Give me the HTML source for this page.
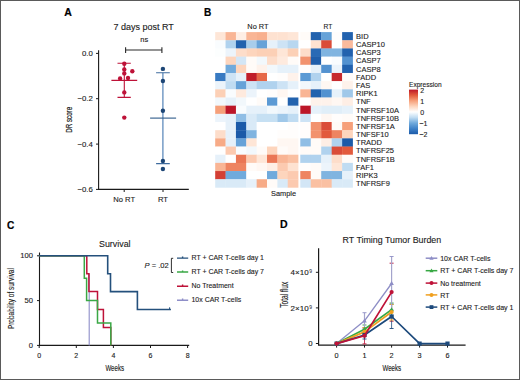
<!DOCTYPE html>
<html><head><meta charset="utf-8"><style>
html,body{margin:0;padding:0;background:#fff;}
body{width:520px;height:380px;overflow:hidden;}
svg{display:block;}
text{font-family:"Liberation Sans", sans-serif;}
</style></head><body>
<svg width="520" height="380" viewBox="0 0 520 380">
<rect x="0" y="0" width="520" height="380" fill="#fff"/>
<text x="64.30" y="16.00" font-size="11" font-weight="bold" fill="#000" textLength="7.60" lengthAdjust="spacingAndGlyphs" stroke="#000" stroke-width="0.2">A</text>
<text x="143.70" y="30.20" font-size="9" fill="#1c1c1c" stroke="#1c1c1c" stroke-width="0.12" text-anchor="middle" >7 days post RT</text>
<text x="144.20" y="42.30" font-size="7" fill="#1c1c1c" stroke="#1c1c1c" stroke-width="0.12" text-anchor="middle" textLength="7.90" lengthAdjust="spacingAndGlyphs" >ns</text>
<path d="M125.6 50H161.9M125.6 47.3V53M161.9 47.3V53" stroke="#2a2a2a" stroke-width="1.1" fill="none"/>
<path d="M98.6 50.3V189.4H188.8" stroke="#1a1a1a" stroke-width="1.1" fill="none"/>
<path d="M96 53.4H98.6" stroke="#1a1a1a" stroke-width="1"/>
<text x="92.80" y="56.10" font-size="7.8" fill="#1c1c1c" stroke="#1c1c1c" stroke-width="0.12" text-anchor="end" >0.0</text>
<path d="M96 98.7H98.6" stroke="#1a1a1a" stroke-width="1"/>
<text x="92.80" y="101.44" font-size="7.8" fill="#1c1c1c" stroke="#1c1c1c" stroke-width="0.12" text-anchor="end" >−0.2</text>
<path d="M96 144.1H98.6" stroke="#1a1a1a" stroke-width="1"/>
<text x="92.80" y="146.78" font-size="7.8" fill="#1c1c1c" stroke="#1c1c1c" stroke-width="0.12" text-anchor="end" >−0.4</text>
<path d="M96 189.4H98.6" stroke="#1a1a1a" stroke-width="1"/>
<text x="92.80" y="192.12" font-size="7.8" fill="#1c1c1c" stroke="#1c1c1c" stroke-width="0.12" text-anchor="end" >−0.6</text>
<path d="M124.2 189.4V192" stroke="#1a1a1a" stroke-width="1"/>
<text x="124.20" y="202.00" font-size="7.6" fill="#1c1c1c" stroke="#1c1c1c" stroke-width="0.12" text-anchor="middle" >No RT</text>
<path d="M163 189.4V192" stroke="#1a1a1a" stroke-width="1"/>
<text x="163.00" y="202.00" font-size="7.6" fill="#1c1c1c" stroke="#1c1c1c" stroke-width="0.12" text-anchor="middle" >RT</text>
<text transform="translate(72.40 119.80) rotate(-90)" font-size="9.4" fill="#1c1c1c" text-anchor="middle" textLength="25.80" lengthAdjust="spacingAndGlyphs" stroke="#1c1c1c" stroke-width="0.2">DR score</text>
<path d="M124.3 63.3V97.4M117.5 63.3H130.8M117.5 97.4H130.8M111.4 80.4H137.2" stroke="#be1238" stroke-width="1.1" fill="none"/>
<circle cx="124.3" cy="63.7" r="2.2" fill="#be1238"/>
<circle cx="124.3" cy="69.4" r="2.2" fill="#be1238"/>
<circle cx="124.3" cy="73.4" r="2.2" fill="#be1238"/>
<circle cx="132.3" cy="71.2" r="2.2" fill="#be1238"/>
<circle cx="120.1" cy="78.4" r="2.2" fill="#be1238"/>
<circle cx="128" cy="78" r="2.2" fill="#be1238"/>
<circle cx="124.3" cy="92.4" r="2.2" fill="#be1238"/>
<circle cx="124.3" cy="117.6" r="2.2" fill="#be1238"/>
<path d="M162.9 72.8V163.6" stroke="#5584b8" stroke-width="1.2" fill="none"/>
<path d="M156.1 72.8H169.8M156.1 163.6H169.8" stroke="#3f6c9e" stroke-width="1.1" fill="none"/>
<path d="M150.1 118.1H176.1" stroke="#2d5a8a" stroke-width="1.1" fill="none"/>
<circle cx="162.9" cy="68.9" r="2.2" fill="#1d4676"/>
<circle cx="162.9" cy="81" r="2.2" fill="#1d4676"/>
<circle cx="162.9" cy="110.8" r="2.2" fill="#1d4676"/>
<circle cx="162.9" cy="161" r="2.2" fill="#1d4676"/>
<circle cx="162.9" cy="169" r="2.2" fill="#1d4676"/>
<text x="204.10" y="16.20" font-size="11" font-weight="bold" fill="#000" textLength="7.30" lengthAdjust="spacingAndGlyphs" stroke="#000" stroke-width="0.2">B</text>
<text x="257.90" y="28.80" font-size="7.6" fill="#1c1c1c" stroke="#1c1c1c" stroke-width="0.12" text-anchor="middle" textLength="21.20" lengthAdjust="spacingAndGlyphs" >No RT</text>
<text x="328.00" y="28.80" font-size="7.6" fill="#1c1c1c" stroke="#1c1c1c" stroke-width="0.12" text-anchor="middle" textLength="8.80" lengthAdjust="spacingAndGlyphs" >RT</text>
<rect x="215.20" y="32.10" width="10.66" height="8.47" fill="#fee6d7"/>
<rect x="225.56" y="32.10" width="10.66" height="8.47" fill="#f9b595"/>
<rect x="235.93" y="32.10" width="10.66" height="8.47" fill="#feeee5"/>
<rect x="246.29" y="32.10" width="10.66" height="8.47" fill="#f9b595"/>
<rect x="256.65" y="32.10" width="10.66" height="8.47" fill="#f8b08e"/>
<rect x="267.01" y="32.10" width="10.66" height="8.47" fill="#fee2d1"/>
<rect x="277.38" y="32.10" width="10.66" height="8.47" fill="#fee2d1"/>
<rect x="287.74" y="32.10" width="10.66" height="8.47" fill="#fee6d7"/>
<rect x="300.30" y="32.10" width="10.76" height="8.47" fill="#fffbf8"/>
<rect x="310.76" y="32.10" width="10.76" height="8.47" fill="#2262ae"/>
<rect x="321.22" y="32.10" width="10.76" height="8.47" fill="#66a2d8"/>
<rect x="331.68" y="32.10" width="10.76" height="8.47" fill="#fffdfc"/>
<rect x="342.14" y="32.10" width="10.76" height="8.47" fill="#2262ae"/>
<text x="356.10" y="38.94" font-size="7.9" fill="#1c1c1c" stroke="#1c1c1c" stroke-width="0.12" textLength="12.51" lengthAdjust="spacingAndGlyphs" >BID</text>
<rect x="215.20" y="40.27" width="10.66" height="8.47" fill="#f9fcfe"/>
<rect x="225.56" y="40.27" width="10.66" height="8.47" fill="#b0d2ee"/>
<rect x="235.93" y="40.27" width="10.66" height="8.47" fill="#2262ae"/>
<rect x="246.29" y="40.27" width="10.66" height="8.47" fill="#a8cdeb"/>
<rect x="256.65" y="40.27" width="10.66" height="8.47" fill="#66a2d8"/>
<rect x="267.01" y="40.27" width="10.66" height="8.47" fill="#e6f1fa"/>
<rect x="277.38" y="40.27" width="10.66" height="8.47" fill="#cde3f5"/>
<rect x="287.74" y="40.27" width="10.66" height="8.47" fill="#b8d7f0"/>
<rect x="300.30" y="40.27" width="10.76" height="8.47" fill="#ffffff"/>
<rect x="310.76" y="40.27" width="10.76" height="8.47" fill="#fee2d1"/>
<rect x="321.22" y="40.27" width="10.76" height="8.47" fill="#da4c38"/>
<rect x="331.68" y="40.27" width="10.76" height="8.47" fill="#ffffff"/>
<rect x="342.14" y="40.27" width="10.76" height="8.47" fill="#faba9c"/>
<text x="356.10" y="47.11" font-size="7.9" fill="#1c1c1c" stroke="#1c1c1c" stroke-width="0.12" textLength="28.79" lengthAdjust="spacingAndGlyphs" >CASP10</text>
<rect x="215.20" y="48.45" width="10.66" height="8.47" fill="#fcfefe"/>
<rect x="225.56" y="48.45" width="10.66" height="8.47" fill="#ecf4fb"/>
<rect x="235.93" y="48.45" width="10.66" height="8.47" fill="#fdddca"/>
<rect x="246.29" y="48.45" width="10.66" height="8.47" fill="#fdd5bd"/>
<rect x="256.65" y="48.45" width="10.66" height="8.47" fill="#fcd0b6"/>
<rect x="267.01" y="48.45" width="10.66" height="8.47" fill="#fcd0b6"/>
<rect x="277.38" y="48.45" width="10.66" height="8.47" fill="#fee6d7"/>
<rect x="287.74" y="48.45" width="10.66" height="8.47" fill="#fcd0b6"/>
<rect x="300.30" y="48.45" width="10.76" height="8.47" fill="#fdddca"/>
<rect x="310.76" y="48.45" width="10.76" height="8.47" fill="#296ab5"/>
<rect x="321.22" y="48.45" width="10.76" height="8.47" fill="#80b4e0"/>
<rect x="331.68" y="48.45" width="10.76" height="8.47" fill="#80b4e0"/>
<rect x="342.14" y="48.45" width="10.76" height="8.47" fill="#2262ae"/>
<text x="356.10" y="55.28" font-size="7.9" fill="#1c1c1c" stroke="#1c1c1c" stroke-width="0.12" textLength="24.61" lengthAdjust="spacingAndGlyphs" >CASP3</text>
<rect x="215.20" y="56.62" width="10.66" height="8.47" fill="#ffffff"/>
<rect x="225.56" y="56.62" width="10.66" height="8.47" fill="#fdd5bd"/>
<rect x="235.93" y="56.62" width="10.66" height="8.47" fill="#d3e6f6"/>
<rect x="246.29" y="56.62" width="10.66" height="8.47" fill="#fffbf8"/>
<rect x="256.65" y="56.62" width="10.66" height="8.47" fill="#f2f8fc"/>
<rect x="267.01" y="56.62" width="10.66" height="8.47" fill="#fdddca"/>
<rect x="277.38" y="56.62" width="10.66" height="8.47" fill="#feeade"/>
<rect x="287.74" y="56.62" width="10.66" height="8.47" fill="#fffbf8"/>
<rect x="300.30" y="56.62" width="10.76" height="8.47" fill="#f2926e"/>
<rect x="310.76" y="56.62" width="10.76" height="8.47" fill="#1f5eab"/>
<rect x="321.22" y="56.62" width="10.76" height="8.47" fill="#ffffff"/>
<rect x="331.68" y="56.62" width="10.76" height="8.47" fill="#f9fcfe"/>
<rect x="342.14" y="56.62" width="10.76" height="8.47" fill="#5392d0"/>
<text x="356.10" y="63.46" font-size="7.9" fill="#1c1c1c" stroke="#1c1c1c" stroke-width="0.12" textLength="24.61" lengthAdjust="spacingAndGlyphs" >CASP7</text>
<rect x="215.20" y="64.79" width="10.66" height="8.47" fill="#ffffff"/>
<rect x="225.56" y="64.79" width="10.66" height="8.47" fill="#70aadc"/>
<rect x="235.93" y="64.79" width="10.66" height="8.47" fill="#fdd5bd"/>
<rect x="246.29" y="64.79" width="10.66" height="8.47" fill="#fffbf8"/>
<rect x="256.65" y="64.79" width="10.66" height="8.47" fill="#fef2eb"/>
<rect x="267.01" y="64.79" width="10.66" height="8.47" fill="#f2f8fc"/>
<rect x="277.38" y="64.79" width="10.66" height="8.47" fill="#e6f1fa"/>
<rect x="287.74" y="64.79" width="10.66" height="8.47" fill="#e6f1fa"/>
<rect x="300.30" y="64.79" width="10.76" height="8.47" fill="#fffdfc"/>
<rect x="310.76" y="64.79" width="10.76" height="8.47" fill="#e6f1fa"/>
<rect x="321.22" y="64.79" width="10.76" height="8.47" fill="#5392d0"/>
<rect x="331.68" y="64.79" width="10.76" height="8.47" fill="#ecf4fb"/>
<rect x="342.14" y="64.79" width="10.76" height="8.47" fill="#2262ae"/>
<text x="356.10" y="71.63" font-size="7.9" fill="#1c1c1c" stroke="#1c1c1c" stroke-width="0.12" textLength="24.61" lengthAdjust="spacingAndGlyphs" >CASP8</text>
<rect x="215.20" y="72.97" width="10.66" height="8.47" fill="#387ac2"/>
<rect x="225.56" y="72.97" width="10.66" height="8.47" fill="#cde3f5"/>
<rect x="235.93" y="72.97" width="10.66" height="8.47" fill="#e6f1fa"/>
<rect x="246.29" y="72.97" width="10.66" height="8.47" fill="#c01d2a"/>
<rect x="256.65" y="72.97" width="10.66" height="8.47" fill="#e66848"/>
<rect x="267.01" y="72.97" width="10.66" height="8.47" fill="#ffffff"/>
<rect x="277.38" y="72.97" width="10.66" height="8.47" fill="#fffdfc"/>
<rect x="287.74" y="72.97" width="10.66" height="8.47" fill="#fef2eb"/>
<rect x="300.30" y="72.97" width="10.76" height="8.47" fill="#5c9ad4"/>
<rect x="310.76" y="72.97" width="10.76" height="8.47" fill="#b0d2ee"/>
<rect x="321.22" y="72.97" width="10.76" height="8.47" fill="#ffffff"/>
<rect x="331.68" y="72.97" width="10.76" height="8.47" fill="#c72a2e"/>
<rect x="342.14" y="72.97" width="10.76" height="8.47" fill="#fffbf8"/>
<text x="356.10" y="79.81" font-size="7.9" fill="#1c1c1c" stroke="#1c1c1c" stroke-width="0.12" textLength="20.02" lengthAdjust="spacingAndGlyphs" >FADD</text>
<rect x="215.20" y="81.14" width="10.66" height="8.47" fill="#ecf4fb"/>
<rect x="225.56" y="81.14" width="10.66" height="8.47" fill="#c0dcf2"/>
<rect x="235.93" y="81.14" width="10.66" height="8.47" fill="#66a2d8"/>
<rect x="246.29" y="81.14" width="10.66" height="8.47" fill="#cde3f5"/>
<rect x="256.65" y="81.14" width="10.66" height="8.47" fill="#b0d2ee"/>
<rect x="267.01" y="81.14" width="10.66" height="8.47" fill="#b0d2ee"/>
<rect x="277.38" y="81.14" width="10.66" height="8.47" fill="#cde3f5"/>
<rect x="287.74" y="81.14" width="10.66" height="8.47" fill="#e6f1fa"/>
<rect x="300.30" y="81.14" width="10.76" height="8.47" fill="#f2f8fc"/>
<rect x="310.76" y="81.14" width="10.76" height="8.47" fill="#e6f1fa"/>
<rect x="321.22" y="81.14" width="10.76" height="8.47" fill="#fff7f2"/>
<rect x="331.68" y="81.14" width="10.76" height="8.47" fill="#ffffff"/>
<rect x="342.14" y="81.14" width="10.76" height="8.47" fill="#fef2eb"/>
<text x="356.10" y="87.98" font-size="7.9" fill="#1c1c1c" stroke="#1c1c1c" stroke-width="0.12" textLength="14.18" lengthAdjust="spacingAndGlyphs" >FAS</text>
<rect x="215.20" y="89.32" width="10.66" height="8.47" fill="#fcd0b6"/>
<rect x="225.56" y="89.32" width="10.66" height="8.47" fill="#f9fcfe"/>
<rect x="235.93" y="89.32" width="10.66" height="8.47" fill="#feeade"/>
<rect x="246.29" y="89.32" width="10.66" height="8.47" fill="#ecf4fb"/>
<rect x="256.65" y="89.32" width="10.66" height="8.47" fill="#ffffff"/>
<rect x="267.01" y="89.32" width="10.66" height="8.47" fill="#fffdfc"/>
<rect x="277.38" y="89.32" width="10.66" height="8.47" fill="#fff7f2"/>
<rect x="287.74" y="89.32" width="10.66" height="8.47" fill="#ffffff"/>
<rect x="300.30" y="89.32" width="10.76" height="8.47" fill="#f9b595"/>
<rect x="310.76" y="89.32" width="10.76" height="8.47" fill="#2262ae"/>
<rect x="321.22" y="89.32" width="10.76" height="8.47" fill="#5392d0"/>
<rect x="331.68" y="89.32" width="10.76" height="8.47" fill="#e6f1fa"/>
<rect x="342.14" y="89.32" width="10.76" height="8.47" fill="#a0c8e9"/>
<text x="356.10" y="96.15" font-size="7.9" fill="#1c1c1c" stroke="#1c1c1c" stroke-width="0.12" textLength="21.69" lengthAdjust="spacingAndGlyphs" >RIPK1</text>
<rect x="215.20" y="97.49" width="10.66" height="8.47" fill="#f2f8fc"/>
<rect x="225.56" y="97.49" width="10.66" height="8.47" fill="#e6f1fa"/>
<rect x="235.93" y="97.49" width="10.66" height="8.47" fill="#f2f8fc"/>
<rect x="246.29" y="97.49" width="10.66" height="8.47" fill="#ffffff"/>
<rect x="256.65" y="97.49" width="10.66" height="8.47" fill="#fffbf8"/>
<rect x="267.01" y="97.49" width="10.66" height="8.47" fill="#5c9ad4"/>
<rect x="277.38" y="97.49" width="10.66" height="8.47" fill="#ffffff"/>
<rect x="287.74" y="97.49" width="10.66" height="8.47" fill="#2262ae"/>
<rect x="300.30" y="97.49" width="10.76" height="8.47" fill="#ffffff"/>
<rect x="310.76" y="97.49" width="10.76" height="8.47" fill="#fef2eb"/>
<rect x="321.22" y="97.49" width="10.76" height="8.47" fill="#fef2eb"/>
<rect x="331.68" y="97.49" width="10.76" height="8.47" fill="#fff7f2"/>
<rect x="342.14" y="97.49" width="10.76" height="8.47" fill="#feeee5"/>
<text x="356.10" y="104.33" font-size="7.9" fill="#1c1c1c" stroke="#1c1c1c" stroke-width="0.12" textLength="14.59" lengthAdjust="spacingAndGlyphs" >TNF</text>
<rect x="215.20" y="105.66" width="10.66" height="8.47" fill="#f6a07a"/>
<rect x="225.56" y="105.66" width="10.66" height="8.47" fill="#bc1628"/>
<rect x="235.93" y="105.66" width="10.66" height="8.47" fill="#f9fcfe"/>
<rect x="246.29" y="105.66" width="10.66" height="8.47" fill="#e6f1fa"/>
<rect x="256.65" y="105.66" width="10.66" height="8.47" fill="#e6f1fa"/>
<rect x="267.01" y="105.66" width="10.66" height="8.47" fill="#f2f8fc"/>
<rect x="277.38" y="105.66" width="10.66" height="8.47" fill="#ecf4fb"/>
<rect x="287.74" y="105.66" width="10.66" height="8.47" fill="#e6f1fa"/>
<rect x="300.30" y="105.66" width="10.76" height="8.47" fill="#bc1628"/>
<rect x="310.76" y="105.66" width="10.76" height="8.47" fill="#e6f1fa"/>
<rect x="321.22" y="105.66" width="10.76" height="8.47" fill="#e0eef8"/>
<rect x="331.68" y="105.66" width="10.76" height="8.47" fill="#e0eef8"/>
<rect x="342.14" y="105.66" width="10.76" height="8.47" fill="#e6f1fa"/>
<text x="356.10" y="112.50" font-size="7.9" fill="#1c1c1c" stroke="#1c1c1c" stroke-width="0.12" textLength="42.95" lengthAdjust="spacingAndGlyphs" >TNFRSF10A</text>
<rect x="215.20" y="113.84" width="10.66" height="8.47" fill="#ecf4fb"/>
<rect x="225.56" y="113.84" width="10.66" height="8.47" fill="#e6f1fa"/>
<rect x="235.93" y="113.84" width="10.66" height="8.47" fill="#90bee5"/>
<rect x="246.29" y="113.84" width="10.66" height="8.47" fill="#d9eaf7"/>
<rect x="256.65" y="113.84" width="10.66" height="8.47" fill="#c6e0f3"/>
<rect x="267.01" y="113.84" width="10.66" height="8.47" fill="#c6e0f3"/>
<rect x="277.38" y="113.84" width="10.66" height="8.47" fill="#a0c8e9"/>
<rect x="287.74" y="113.84" width="10.66" height="8.47" fill="#c0dcf2"/>
<rect x="300.30" y="113.84" width="10.76" height="8.47" fill="#cde3f5"/>
<rect x="310.76" y="113.84" width="10.76" height="8.47" fill="#ffffff"/>
<rect x="321.22" y="113.84" width="10.76" height="8.47" fill="#fff7f2"/>
<rect x="331.68" y="113.84" width="10.76" height="8.47" fill="#fffdfc"/>
<rect x="342.14" y="113.84" width="10.76" height="8.47" fill="#fffbf8"/>
<text x="356.10" y="120.67" font-size="7.9" fill="#1c1c1c" stroke="#1c1c1c" stroke-width="0.12" textLength="42.95" lengthAdjust="spacingAndGlyphs" >TNFRSF10B</text>
<rect x="215.20" y="122.01" width="10.66" height="8.47" fill="#ffffff"/>
<rect x="225.56" y="122.01" width="10.66" height="8.47" fill="#e6f1fa"/>
<rect x="235.93" y="122.01" width="10.66" height="8.47" fill="#1b5aa8"/>
<rect x="246.29" y="122.01" width="10.66" height="8.47" fill="#d9eaf7"/>
<rect x="256.65" y="122.01" width="10.66" height="8.47" fill="#ffffff"/>
<rect x="267.01" y="122.01" width="10.66" height="8.47" fill="#ffffff"/>
<rect x="277.38" y="122.01" width="10.66" height="8.47" fill="#ffffff"/>
<rect x="287.74" y="122.01" width="10.66" height="8.47" fill="#fffdfc"/>
<rect x="300.30" y="122.01" width="10.76" height="8.47" fill="#fffdfc"/>
<rect x="310.76" y="122.01" width="10.76" height="8.47" fill="#f2926e"/>
<rect x="321.22" y="122.01" width="10.76" height="8.47" fill="#da4c38"/>
<rect x="331.68" y="122.01" width="10.76" height="8.47" fill="#fffbf8"/>
<rect x="342.14" y="122.01" width="10.76" height="8.47" fill="#f6a07a"/>
<text x="356.10" y="128.85" font-size="7.9" fill="#1c1c1c" stroke="#1c1c1c" stroke-width="0.12" textLength="38.78" lengthAdjust="spacingAndGlyphs" >TNFRSF1A</text>
<rect x="215.20" y="130.18" width="10.66" height="8.47" fill="#fdddca"/>
<rect x="225.56" y="130.18" width="10.66" height="8.47" fill="#e6f1fa"/>
<rect x="235.93" y="130.18" width="10.66" height="8.47" fill="#1b5aa8"/>
<rect x="246.29" y="130.18" width="10.66" height="8.47" fill="#80b4e0"/>
<rect x="256.65" y="130.18" width="10.66" height="8.47" fill="#ffffff"/>
<rect x="267.01" y="130.18" width="10.66" height="8.47" fill="#ffffff"/>
<rect x="277.38" y="130.18" width="10.66" height="8.47" fill="#fffdfc"/>
<rect x="287.74" y="130.18" width="10.66" height="8.47" fill="#fffdfc"/>
<rect x="300.30" y="130.18" width="10.76" height="8.47" fill="#fffdfc"/>
<rect x="310.76" y="130.18" width="10.76" height="8.47" fill="#f2926e"/>
<rect x="321.22" y="130.18" width="10.76" height="8.47" fill="#e25a3c"/>
<rect x="331.68" y="130.18" width="10.76" height="8.47" fill="#ee8461"/>
<rect x="342.14" y="130.18" width="10.76" height="8.47" fill="#fdd5bd"/>
<text x="356.10" y="137.02" font-size="7.9" fill="#1c1c1c" stroke="#1c1c1c" stroke-width="0.12" textLength="32.52" lengthAdjust="spacingAndGlyphs" >TNFSF10</text>
<rect x="215.20" y="138.36" width="10.66" height="8.47" fill="#f7ab87"/>
<rect x="225.56" y="138.36" width="10.66" height="8.47" fill="#e6f1fa"/>
<rect x="235.93" y="138.36" width="10.66" height="8.47" fill="#66a2d8"/>
<rect x="246.29" y="138.36" width="10.66" height="8.47" fill="#fee6d7"/>
<rect x="256.65" y="138.36" width="10.66" height="8.47" fill="#ffffff"/>
<rect x="267.01" y="138.36" width="10.66" height="8.47" fill="#ffffff"/>
<rect x="277.38" y="138.36" width="10.66" height="8.47" fill="#fff7f2"/>
<rect x="287.74" y="138.36" width="10.66" height="8.47" fill="#fff7f2"/>
<rect x="300.30" y="138.36" width="10.76" height="8.47" fill="#90bee5"/>
<rect x="310.76" y="138.36" width="10.76" height="8.47" fill="#fffbf8"/>
<rect x="321.22" y="138.36" width="10.76" height="8.47" fill="#feeee5"/>
<rect x="331.68" y="138.36" width="10.76" height="8.47" fill="#b0d2ee"/>
<rect x="342.14" y="138.36" width="10.76" height="8.47" fill="#1b5aa8"/>
<text x="356.10" y="145.19" font-size="7.9" fill="#1c1c1c" stroke="#1c1c1c" stroke-width="0.12" textLength="25.85" lengthAdjust="spacingAndGlyphs" >TRADD</text>
<rect x="215.20" y="146.53" width="10.66" height="8.47" fill="#ffffff"/>
<rect x="225.56" y="146.53" width="10.66" height="8.47" fill="#fccab0"/>
<rect x="235.93" y="146.53" width="10.66" height="8.47" fill="#f9fcfe"/>
<rect x="246.29" y="146.53" width="10.66" height="8.47" fill="#f2f8fc"/>
<rect x="256.65" y="146.53" width="10.66" height="8.47" fill="#fffbf8"/>
<rect x="267.01" y="146.53" width="10.66" height="8.47" fill="#fdd5bd"/>
<rect x="277.38" y="146.53" width="10.66" height="8.47" fill="#fffbf8"/>
<rect x="287.74" y="146.53" width="10.66" height="8.47" fill="#fff7f2"/>
<rect x="300.30" y="146.53" width="10.76" height="8.47" fill="#fffbf8"/>
<rect x="310.76" y="146.53" width="10.76" height="8.47" fill="#fffbf8"/>
<rect x="321.22" y="146.53" width="10.76" height="8.47" fill="#b0d2ee"/>
<rect x="331.68" y="146.53" width="10.76" height="8.47" fill="#da4c38"/>
<rect x="342.14" y="146.53" width="10.76" height="8.47" fill="#e25a3c"/>
<text x="356.10" y="153.37" font-size="7.9" fill="#1c1c1c" stroke="#1c1c1c" stroke-width="0.12" textLength="37.94" lengthAdjust="spacingAndGlyphs" >TNFRSF25</text>
<rect x="215.20" y="154.71" width="10.66" height="8.47" fill="#e6f1fa"/>
<rect x="225.56" y="154.71" width="10.66" height="8.47" fill="#ffffff"/>
<rect x="235.93" y="154.71" width="10.66" height="8.47" fill="#ea7655"/>
<rect x="246.29" y="154.71" width="10.66" height="8.47" fill="#fccab0"/>
<rect x="256.65" y="154.71" width="10.66" height="8.47" fill="#fee6d7"/>
<rect x="267.01" y="154.71" width="10.66" height="8.47" fill="#ea7655"/>
<rect x="277.38" y="154.71" width="10.66" height="8.47" fill="#f9b595"/>
<rect x="287.74" y="154.71" width="10.66" height="8.47" fill="#fac0a2"/>
<rect x="300.30" y="154.71" width="10.76" height="8.47" fill="#b0d2ee"/>
<rect x="310.76" y="154.71" width="10.76" height="8.47" fill="#b0d2ee"/>
<rect x="321.22" y="154.71" width="10.76" height="8.47" fill="#e6f1fa"/>
<rect x="331.68" y="154.71" width="10.76" height="8.47" fill="#fdddca"/>
<rect x="342.14" y="154.71" width="10.76" height="8.47" fill="#fffbf8"/>
<text x="356.10" y="161.54" font-size="7.9" fill="#1c1c1c" stroke="#1c1c1c" stroke-width="0.12" textLength="38.78" lengthAdjust="spacingAndGlyphs" >TNFRSF1B</text>
<rect x="215.20" y="162.88" width="10.66" height="8.47" fill="#f9b595"/>
<rect x="225.56" y="162.88" width="10.66" height="8.47" fill="#ee8461"/>
<rect x="235.93" y="162.88" width="10.66" height="8.47" fill="#ee8461"/>
<rect x="246.29" y="162.88" width="10.66" height="8.47" fill="#fffbf8"/>
<rect x="256.65" y="162.88" width="10.66" height="8.47" fill="#fff7f2"/>
<rect x="267.01" y="162.88" width="10.66" height="8.47" fill="#feeee5"/>
<rect x="277.38" y="162.88" width="10.66" height="8.47" fill="#fccab0"/>
<rect x="287.74" y="162.88" width="10.66" height="8.47" fill="#fee2d1"/>
<rect x="300.30" y="162.88" width="10.76" height="8.47" fill="#fffdfc"/>
<rect x="310.76" y="162.88" width="10.76" height="8.47" fill="#fffbf8"/>
<rect x="321.22" y="162.88" width="10.76" height="8.47" fill="#ecf4fb"/>
<rect x="331.68" y="162.88" width="10.76" height="8.47" fill="#fee6d7"/>
<rect x="342.14" y="162.88" width="10.76" height="8.47" fill="#c0dcf2"/>
<text x="356.10" y="169.72" font-size="7.9" fill="#1c1c1c" stroke="#1c1c1c" stroke-width="0.12" textLength="17.93" lengthAdjust="spacingAndGlyphs" >FAF1</text>
<rect x="215.20" y="171.05" width="10.66" height="8.47" fill="#d33f34"/>
<rect x="225.56" y="171.05" width="10.66" height="8.47" fill="#70aadc"/>
<rect x="235.93" y="171.05" width="10.66" height="8.47" fill="#70aadc"/>
<rect x="246.29" y="171.05" width="10.66" height="8.47" fill="#ffffff"/>
<rect x="256.65" y="171.05" width="10.66" height="8.47" fill="#ffffff"/>
<rect x="267.01" y="171.05" width="10.66" height="8.47" fill="#70aadc"/>
<rect x="277.38" y="171.05" width="10.66" height="8.47" fill="#fdd5bd"/>
<rect x="287.74" y="171.05" width="10.66" height="8.47" fill="#fccab0"/>
<rect x="300.30" y="171.05" width="10.76" height="8.47" fill="#ee8461"/>
<rect x="310.76" y="171.05" width="10.76" height="8.47" fill="#fffbf8"/>
<rect x="321.22" y="171.05" width="10.76" height="8.47" fill="#80b4e0"/>
<rect x="331.68" y="171.05" width="10.76" height="8.47" fill="#80b4e0"/>
<rect x="342.14" y="171.05" width="10.76" height="8.47" fill="#e6f1fa"/>
<text x="356.10" y="177.89" font-size="7.9" fill="#1c1c1c" stroke="#1c1c1c" stroke-width="0.12" textLength="21.69" lengthAdjust="spacingAndGlyphs" >RIPK3</text>
<rect x="215.20" y="179.23" width="10.66" height="8.47" fill="#d9eaf7"/>
<rect x="225.56" y="179.23" width="10.66" height="8.47" fill="#d9eaf7"/>
<rect x="235.93" y="179.23" width="10.66" height="8.47" fill="#d9eaf7"/>
<rect x="246.29" y="179.23" width="10.66" height="8.47" fill="#e6f1fa"/>
<rect x="256.65" y="179.23" width="10.66" height="8.47" fill="#f7ab87"/>
<rect x="267.01" y="179.23" width="10.66" height="8.47" fill="#fffbf8"/>
<rect x="277.38" y="179.23" width="10.66" height="8.47" fill="#d9eaf7"/>
<rect x="287.74" y="179.23" width="10.66" height="8.47" fill="#fccab0"/>
<rect x="300.30" y="179.23" width="10.76" height="8.47" fill="#d3e6f6"/>
<rect x="310.76" y="179.23" width="10.76" height="8.47" fill="#fac0a2"/>
<rect x="321.22" y="179.23" width="10.76" height="8.47" fill="#fac0a2"/>
<rect x="331.68" y="179.23" width="10.76" height="8.47" fill="#d9eaf7"/>
<rect x="342.14" y="179.23" width="10.76" height="8.47" fill="#d9eaf7"/>
<text x="356.10" y="186.06" font-size="7.9" fill="#1c1c1c" stroke="#1c1c1c" stroke-width="0.12" textLength="33.77" lengthAdjust="spacingAndGlyphs" >TNFRSF9</text>
<text x="283.50" y="196.40" font-size="8" fill="#1c1c1c" stroke="#1c1c1c" stroke-width="0.12" text-anchor="middle" textLength="25.00" lengthAdjust="spacingAndGlyphs" >Sample</text>
<defs><linearGradient id="cb" x1="0" y1="0" x2="0" y2="1"><stop offset="0.000" stop-color="#bc1628"/><stop offset="0.125" stop-color="#e25a3c"/><stop offset="0.250" stop-color="#f6a07a"/><stop offset="0.375" stop-color="#fdd5bd"/><stop offset="0.500" stop-color="#ffffff"/><stop offset="0.625" stop-color="#c0dcf2"/><stop offset="0.750" stop-color="#70aadc"/><stop offset="0.875" stop-color="#3f82c8"/><stop offset="1.000" stop-color="#1b5aa8"/></linearGradient></defs>
<rect x="409" y="89.6" width="9" height="44.6" fill="url(#cb)"/>
<text x="409.00" y="86.60" font-size="7" fill="#1c1c1c" stroke="#1c1c1c" stroke-width="0.12" textLength="32.60" lengthAdjust="spacingAndGlyphs" >Expression</text>
<text x="420.20" y="92.90" font-size="7" fill="#1c1c1c" stroke="#1c1c1c" stroke-width="0.12" >2</text>
<text x="420.20" y="103.80" font-size="7" fill="#1c1c1c" stroke="#1c1c1c" stroke-width="0.12" >1</text>
<text x="420.20" y="114.70" font-size="7" fill="#1c1c1c" stroke="#1c1c1c" stroke-width="0.12" >0</text>
<text x="419.30" y="125.60" font-size="7" fill="#1c1c1c" stroke="#1c1c1c" stroke-width="0.12" >−1</text>
<text x="419.30" y="136.50" font-size="7" fill="#1c1c1c" stroke="#1c1c1c" stroke-width="0.12" >−2</text>
<text x="7.00" y="228.50" font-size="11" font-weight="bold" fill="#000" textLength="7.30" lengthAdjust="spacingAndGlyphs" stroke="#000" stroke-width="0.2">C</text>
<text x="114.80" y="247.20" font-size="9" fill="#1c1c1c" stroke="#1c1c1c" stroke-width="0.12" text-anchor="middle" textLength="31.60" lengthAdjust="spacingAndGlyphs" >Survival</text>
<path d="M39.5 252.5V345.4H189.2" stroke="#1a1a1a" stroke-width="1.1" fill="none"/>
<path d="M37 345.4H39.5" stroke="#1a1a1a" stroke-width="1"/>
<text x="32.90" y="348.10" font-size="7.6" fill="#1c1c1c" stroke="#1c1c1c" stroke-width="0.12" text-anchor="end" >0</text>
<path d="M37 300.6H39.5" stroke="#1a1a1a" stroke-width="1"/>
<text x="32.90" y="303.27" font-size="7.6" fill="#1c1c1c" stroke="#1c1c1c" stroke-width="0.12" text-anchor="end" >50</text>
<path d="M37 255.8H39.5" stroke="#1a1a1a" stroke-width="1"/>
<text x="32.90" y="258.45" font-size="7.6" fill="#1c1c1c" stroke="#1c1c1c" stroke-width="0.12" text-anchor="end" >100</text>
<path d="M39.2 345.4V348" stroke="#1a1a1a" stroke-width="1"/>
<text x="39.20" y="358.10" font-size="7" fill="#1c1c1c" stroke="#1c1c1c" stroke-width="0.12" text-anchor="middle" >0</text>
<path d="M76.3 345.4V348" stroke="#1a1a1a" stroke-width="1"/>
<text x="76.30" y="358.10" font-size="7" fill="#1c1c1c" stroke="#1c1c1c" stroke-width="0.12" text-anchor="middle" >2</text>
<path d="M113.4 345.4V348" stroke="#1a1a1a" stroke-width="1"/>
<text x="113.40" y="358.10" font-size="7" fill="#1c1c1c" stroke="#1c1c1c" stroke-width="0.12" text-anchor="middle" >4</text>
<path d="M150.5 345.4V348" stroke="#1a1a1a" stroke-width="1"/>
<text x="150.50" y="358.10" font-size="7" fill="#1c1c1c" stroke="#1c1c1c" stroke-width="0.12" text-anchor="middle" >6</text>
<path d="M187.6 345.4V348" stroke="#1a1a1a" stroke-width="1"/>
<text x="187.60" y="358.10" font-size="7" fill="#1c1c1c" stroke="#1c1c1c" stroke-width="0.12" text-anchor="middle" >8</text>
<text x="114.75" y="371.10" font-size="9.4" fill="#1c1c1c" text-anchor="middle" textLength="18.70" lengthAdjust="spacingAndGlyphs" stroke="#1c1c1c" stroke-width="0.15">Weeks</text>
<text transform="translate(14.20 298.60) rotate(-90)" font-size="8.8" fill="#1c1c1c" stroke="#1c1c1c" stroke-width="0.12" text-anchor="middle" textLength="61.00" lengthAdjust="spacingAndGlyphs" >Probability of survival</text>
<path d="M89.2 273.4V345.4" stroke="#8e8ec8" stroke-width="1.1" fill="none"/>
<path d="M39.2 255.8H86.8V273.7H88.9V291.6H97.5V309.5H103.4V327.5H110.8V345.4" stroke="#be1238" stroke-width="1.5" fill="none"/>
<path d="M39.2 255.8H84.3V278.2H86.6V300.6H97.5V323.0H110.8V345.4" stroke="#3aa845" stroke-width="1.5" fill="none"/>
<path d="M39.2 255.8H107.7V273.7H110.5V291.6H137.4V309.5H170.9" stroke="#24507c" stroke-width="1.6" fill="none"/>
<path d="M169.6 307.3V309.5" stroke="#24507c" stroke-width="1"/>
<path d="M177 258.1H188.2M182.6 256.5V258.1" stroke="#24507c" stroke-width="1.4"/>
<text x="191.50" y="260.30" font-size="7.6" fill="#1c1c1c" stroke="#1c1c1c" stroke-width="0.12" textLength="72.46" lengthAdjust="spacingAndGlyphs" >RT + CAR T-cells day 1</text>
<path d="M177 272.0H188.2M182.6 270.4V272.0" stroke="#3aa845" stroke-width="1.4"/>
<text x="191.50" y="274.20" font-size="7.6" fill="#1c1c1c" stroke="#1c1c1c" stroke-width="0.12" textLength="72.46" lengthAdjust="spacingAndGlyphs" >RT + CAR T-cells day 7</text>
<path d="M177 286.2H188.2M182.6 284.6V286.2" stroke="#be1238" stroke-width="1.4"/>
<text x="191.50" y="288.40" font-size="7.6" fill="#1c1c1c" stroke="#1c1c1c" stroke-width="0.12" textLength="42.12" lengthAdjust="spacingAndGlyphs" >No Treatment</text>
<path d="M177 300.2H188.2M182.6 298.6V300.2" stroke="#8e8ec8" stroke-width="1.4"/>
<text x="191.50" y="302.40" font-size="7.6" fill="#1c1c1c" stroke="#1c1c1c" stroke-width="0.12" textLength="49.72" lengthAdjust="spacingAndGlyphs" >10x CAR T-cells</text>
<text x="144.5" y="268.1" font-size="7.8" fill="#1c1c1c" stroke="#1c1c1c" stroke-width="0.12" textLength="24.2" lengthAdjust="spacingAndGlyphs"><tspan font-style="italic">P</tspan> = .02</text>
<path d="M173.2 258.3H171.4V272.5H173.2" stroke="#1a1a1a" stroke-width="0.9" fill="none"/>
<text x="279.90" y="228.10" font-size="11" font-weight="bold" fill="#000" textLength="7.60" lengthAdjust="spacingAndGlyphs" stroke="#000" stroke-width="0.2">D</text>
<text x="391.90" y="242.60" font-size="9" fill="#1c1c1c" stroke="#1c1c1c" stroke-width="0.12" text-anchor="middle" textLength="98.60" lengthAdjust="spacingAndGlyphs" >RT Timing Tumor Burden</text>
<path d="M318.6 248.3V345.1H465.6" stroke="#1a1a1a" stroke-width="1.2" fill="none"/>
<path d="M315.9 343.5H318.6" stroke="#1a1a1a" stroke-width="1"/>
<text x="312.50" y="346.20" font-size="7.8" fill="#1c1c1c" stroke="#1c1c1c" stroke-width="0.12" text-anchor="end" >0</text>
<path d="M315.9 307.9H318.6" stroke="#1a1a1a" stroke-width="1"/>
<text x="290.6" y="310.9" font-size="7.8" fill="#1c1c1c" stroke="#1c1c1c" stroke-width="0.12" textLength="18.0" lengthAdjust="spacingAndGlyphs">2×10</text><text x="309.2" y="308.5" font-size="5" fill="#1c1c1c">9</text>
<path d="M315.9 272.3H318.6" stroke="#1a1a1a" stroke-width="1"/>
<text x="290.6" y="275.3" font-size="7.8" fill="#1c1c1c" stroke="#1c1c1c" stroke-width="0.12" textLength="18.0" lengthAdjust="spacingAndGlyphs">4×10</text><text x="309.2" y="272.9" font-size="5" fill="#1c1c1c">9</text>
<path d="M336.6 345.1V347.6" stroke="#1a1a1a" stroke-width="1"/>
<text x="336.60" y="358.20" font-size="7.3" fill="#1c1c1c" stroke="#1c1c1c" stroke-width="0.12" text-anchor="middle" >0</text>
<path d="M364.5 345.1V347.6" stroke="#1a1a1a" stroke-width="1"/>
<text x="364.50" y="358.20" font-size="7.3" fill="#1c1c1c" stroke="#1c1c1c" stroke-width="0.12" text-anchor="middle" >1</text>
<path d="M391.6 345.1V347.6" stroke="#1a1a1a" stroke-width="1"/>
<text x="391.60" y="358.20" font-size="7.3" fill="#1c1c1c" stroke="#1c1c1c" stroke-width="0.12" text-anchor="middle" >2</text>
<path d="M419.6 345.1V347.6" stroke="#1a1a1a" stroke-width="1"/>
<text x="419.60" y="358.20" font-size="7.3" fill="#1c1c1c" stroke="#1c1c1c" stroke-width="0.12" text-anchor="middle" >3</text>
<path d="M447.5 345.1V347.6" stroke="#1a1a1a" stroke-width="1"/>
<text x="447.50" y="358.20" font-size="7.3" fill="#1c1c1c" stroke="#1c1c1c" stroke-width="0.12" text-anchor="middle" >6</text>
<text x="391.85" y="371.20" font-size="9.4" fill="#1c1c1c" text-anchor="middle" textLength="18.70" lengthAdjust="spacingAndGlyphs" stroke="#1c1c1c" stroke-width="0.15">Weeks</text>
<text transform="translate(288.00 294.80) rotate(-90)" font-size="10.4" fill="#1c1c1c" stroke="#1c1c1c" text-anchor="middle" textLength="26.10" lengthAdjust="spacingAndGlyphs" style="stroke-width:0.12px">Total flux</text>
<path d="M364.5 328V343.9" stroke="#be1238" stroke-width="0.8" fill="none"/>
<path d="M362.5 328H366.5M362.5 343.9H366.5" stroke="#be1238" stroke-width="0.9" fill="none"/>
<path d="M389.6 263.2H393.6M389.6 321.2H393.6" stroke="#be1238" stroke-width="0.9" fill="none"/>
<path d="M364.5 331V339" stroke="#1d4a7c" stroke-width="0.8" fill="none"/>
<path d="M362.5 331H366.5M362.5 339H366.5" stroke="#1d4a7c" stroke-width="0.9" fill="none"/>
<path d="M391.6 304.2V328.5" stroke="#1d4a7c" stroke-width="0.8" fill="none"/>
<path d="M389.6 304.2H393.6M389.6 328.5H393.6" stroke="#1d4a7c" stroke-width="0.9" fill="none"/>
<path d="M364.5 327.5V336" stroke="#f0a020" stroke-width="0.8" fill="none"/>
<path d="M362.5 327.5H366.5M362.5 336H366.5" stroke="#f0a020" stroke-width="0.9" fill="none"/>
<path d="M391.6 304.5V320" stroke="#f0a020" stroke-width="0.8" fill="none"/>
<path d="M389.6 304.5H393.6M389.6 320H393.6" stroke="#f0a020" stroke-width="0.9" fill="none"/>
<path d="M364.5 325V333" stroke="#38a844" stroke-width="0.8" fill="none"/>
<path d="M362.5 325H366.5M362.5 333H366.5" stroke="#38a844" stroke-width="0.9" fill="none"/>
<path d="M391.6 303V316" stroke="#38a844" stroke-width="0.8" fill="none"/>
<path d="M389.6 303H393.6M389.6 316H393.6" stroke="#38a844" stroke-width="0.9" fill="none"/>
<path d="M364.5 312.7V329" stroke="#a4a4cc" stroke-width="1.2" fill="none"/>
<path d="M362.5 312.7H366.5M362.5 329H366.5" stroke="#8e8ec6" stroke-width="0.9" fill="none"/>
<path d="M391.6 256.5V310" stroke="#a4a4cc" stroke-width="1.2" fill="none"/>
<path d="M389.6 256.5H393.6M389.6 310H393.6" stroke="#8e8ec6" stroke-width="0.9" fill="none"/>
<path d="M336.6 343.6 L364.5 320.8 L391.6 283.5" stroke="#8e8ec6" stroke-width="1.3" fill="none" stroke-linejoin="round"/>
<path d="M336.6 341.20000000000005L338.9 345.20000000000005L334.3 345.20000000000005Z" fill="#8e8ec6"/>
<path d="M364.5 318.40000000000003L366.8 322.40000000000003L362.2 322.40000000000003Z" fill="#8e8ec6"/>
<path d="M391.6 281.1L393.9 285.1L389.3 285.1Z" fill="#8e8ec6"/>
<path d="M336.6 343.6 L364.5 329.2 L391.6 309.6" stroke="#38a844" stroke-width="1.7" fill="none" stroke-linejoin="round"/>
<path d="M336.6 341.20000000000005L338.9 345.20000000000005L334.3 345.20000000000005Z" fill="#38a844"/>
<path d="M364.5 326.8L366.8 330.8L362.2 330.8Z" fill="#38a844"/>
<path d="M391.6 307.20000000000005L393.9 311.20000000000005L389.3 311.20000000000005Z" fill="#38a844"/>
<path d="M336.6 343.6 L364.5 331.9 L391.6 312" stroke="#f0a020" stroke-width="1.7" fill="none" stroke-linejoin="round"/>
<circle cx="336.6" cy="343.6" r="2.1" fill="#f0a020"/>
<circle cx="364.5" cy="331.9" r="2.1" fill="#f0a020"/>
<circle cx="391.6" cy="312" r="2.1" fill="#f0a020"/>
<path d="M336.6 343.6 L364.5 335 L391.6 316.5 L419.6 343.6 L447.5 343.6" stroke="#1d4a7c" stroke-width="1.7" fill="none" stroke-linejoin="round"/>
<rect x="334.5" y="341.5" width="4.2" height="4.2" fill="#1d4a7c"/>
<rect x="362.4" y="332.9" width="4.2" height="4.2" fill="#1d4a7c"/>
<rect x="389.5" y="314.4" width="4.2" height="4.2" fill="#1d4a7c"/>
<rect x="417.5" y="341.5" width="4.2" height="4.2" fill="#1d4a7c"/>
<rect x="445.4" y="341.5" width="4.2" height="4.2" fill="#1d4a7c"/>
<path d="M336.6 343.6 L364.5 335.8 L391.6 292.1" stroke="#be1238" stroke-width="1.7" fill="none" stroke-linejoin="round"/>
<circle cx="336.6" cy="343.6" r="2.1" fill="#be1238"/>
<circle cx="364.5" cy="335.8" r="2.1" fill="#be1238"/>
<circle cx="391.6" cy="292.1" r="2.1" fill="#be1238"/>
<path d="M425.7 258.2H437.3" stroke="#8e8ec6" stroke-width="1.5"/>
<path d="M431.5 256.0L433.6 259.7L429.4 259.7Z" fill="#8e8ec6"/>
<text x="440.20" y="260.90" font-size="7.6" fill="#1c1c1c" stroke="#1c1c1c" stroke-width="0.12" textLength="50.27" lengthAdjust="spacingAndGlyphs" >10x CAR T-cells</text>
<path d="M425.7 270.7H437.3" stroke="#38a844" stroke-width="1.5"/>
<path d="M431.5 268.5L433.6 272.2L429.4 272.2Z" fill="#38a844"/>
<text x="440.20" y="273.40" font-size="7.6" fill="#1c1c1c" stroke="#1c1c1c" stroke-width="0.12" textLength="73.26" lengthAdjust="spacingAndGlyphs" >RT + CAR T-cells day 7</text>
<path d="M425.7 283.1H437.3" stroke="#be1238" stroke-width="1.5"/>
<circle cx="431.5" cy="283.1" r="2.0" fill="#be1238"/>
<text x="440.20" y="285.80" font-size="7.6" fill="#1c1c1c" stroke="#1c1c1c" stroke-width="0.12" textLength="40.63" lengthAdjust="spacingAndGlyphs" >No treatment</text>
<path d="M425.7 294.9H437.3" stroke="#f0a020" stroke-width="1.5"/>
<circle cx="431.5" cy="294.9" r="2.0" fill="#f0a020"/>
<text x="440.20" y="297.60" font-size="7.6" fill="#1c1c1c" stroke="#1c1c1c" stroke-width="0.12" textLength="9.24" lengthAdjust="spacingAndGlyphs" >RT</text>
<path d="M425.7 307.1H437.3" stroke="#1d4a7c" stroke-width="1.5"/>
<rect x="429.6" y="305.20000000000005" width="3.8" height="3.8" fill="#1d4a7c"/>
<text x="440.20" y="309.80" font-size="7.6" fill="#1c1c1c" stroke="#1c1c1c" stroke-width="0.12" textLength="73.26" lengthAdjust="spacingAndGlyphs" >RT + CAR T-cells day 1</text>
<rect x="0.5" y="0.5" width="519" height="379" fill="none" stroke="#5a5a5a" stroke-width="1"/>
</svg>
</body></html>
